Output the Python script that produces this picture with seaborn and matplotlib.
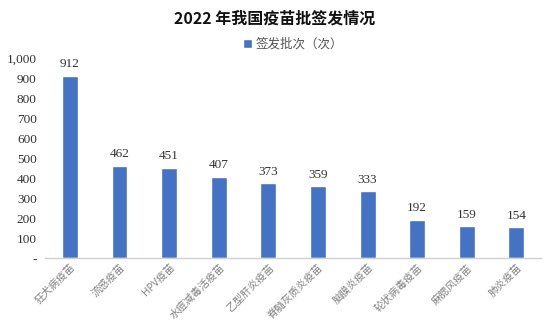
import matplotlib
matplotlib.use("Agg")
import matplotlib.pyplot as plt
import seaborn as sns
import pandas as pd
from matplotlib.ticker import FuncFormatter

categories = ["狂犬病疫苗", "流感疫苗", "HPV疫苗", "水痘减毒活疫苗", "乙型肝炎疫苗",
              "脊髓灰质炎疫苗", "脑膜炎疫苗", "轮状病毒疫苗", "麻腮风疫苗", "肺炎疫苗"]
values = [912, 462, 451, 407, 373, 359, 333, 192, 159, 154]
series_name = "签发批次（次）"
title = "2022 年我国疫苗批签发情况"

sns.set_theme(style="white")
plt.rcParams['font.family'] = ['Noto Sans CJK SC', 'DejaVu Sans']

df = pd.DataFrame({"cat": categories, "val": values, "series": series_name})

fig = plt.figure(figsize=(5.5, 3.3), dpi=100)
ax = fig.add_axes([0.082, 0.218, 0.902, 0.606])
sns.barplot(data=df, x="cat", y="val", hue="series", palette=["#4472C4"],
            saturation=1, width=0.32, ax=ax, legend=True)

ax.set_ylim(0, 1000)
ax.set_xlim(-0.5, len(categories) - 0.5)
ax.set_yticks(range(0, 1001, 100))
ax.yaxis.set_major_formatter(FuncFormatter(lambda v, p: "-" if v == 0 else f"{int(v):,}"))
for lab in ax.get_yticklabels():
    lab.set_fontfamily(['Liberation Serif', 'DejaVu Serif'])
ax.tick_params(axis='y', labelsize=9.5, colors='#333333', length=0, pad=6)
ax.tick_params(axis='x', labelsize=7.5, colors='#808080', length=0, pad=3)
ax.set_xticks(range(len(categories)))
ax.set_xticklabels(categories, rotation=45, ha='right', rotation_mode='anchor')
ax.set_xlabel("")
ax.set_ylabel("")

for s in ["top", "right", "left"]:
    ax.spines[s].set_visible(False)
ax.spines["bottom"].set_color("#D0D0D0")
ax.spines["bottom"].set_linewidth(1)

for container in ax.containers:
    ax.bar_label(container, labels=[str(v) for v in values], padding=4,
                 fontsize=9.5, color='#333333', fontfamily=['Liberation Serif', 'DejaVu Serif'])

leg = ax.legend(loc='lower center', bbox_to_anchor=(0.5, 1.0), frameon=False,
                fontsize=9, handlelength=0.7, handleheight=0.7, handletextpad=0.3,
                borderaxespad=0.2)
for t in leg.get_texts():
    t.set_color('#555555')

fig.text(0.5, 0.945, title, ha='center', va='center', fontsize=11.5,
         fontweight='bold', color='#111111',
         fontfamily=['Noto Sans CJK SC', 'DejaVu Sans'])

fig.savefig("out.png", dpi=100)
